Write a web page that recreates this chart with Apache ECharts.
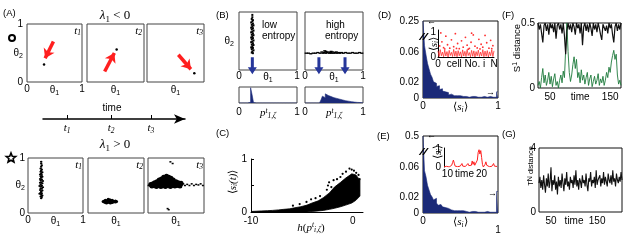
<!DOCTYPE html>
<html><head><meta charset="utf-8">
<script src="https://cdn.jsdelivr.net/npm/echarts@6/dist/echarts.min.js"></script>
<style>html,body{margin:0;padding:0;background:#fff}#c{width:627px;height:241px}</style>
</head><body><div id="c"></div>
<script>
// ---------------- data ----------------
// (A) lambda1<0 : single point and arrow in each snapshot
const aDots = [[0.31,0.30],[0.52,0.56],[0.83,0.15]];
const aArrows = [[[0.48,0.70],[0.33,0.41]],[[0.31,0.18],[0.48,0.50]],[[0.55,0.47],[0.77,0.22]]];
// (A) lambda1>0 : point clouds
const aCloud1 = [[0.24,0.93],[0.24,0.9],[0.25,0.87],[0.24,0.84],[0.23,0.81],[0.25,0.79],[0.24,0.77],[0.23,0.75],[0.26,0.74],[0.24,0.72],[0.22,0.7],[0.25,0.69],[0.23,0.67],[0.26,0.66],[0.24,0.64],[0.22,0.62],[0.25,0.61],[0.23,0.59],[0.27,0.58],[0.24,0.56],[0.22,0.55],[0.26,0.54],[0.23,0.52],[0.25,0.5],[0.21,0.49],[0.24,0.48],[0.27,0.47],[0.23,0.45],[0.25,0.44],[0.22,0.42],[0.26,0.41],[0.24,0.39],[0.23,0.37],[0.25,0.36],[0.21,0.35],[0.24,0.33],[0.26,0.32],[0.23,0.3],[0.25,0.29],[0.24,0.27]];
const aCloud2 = [[0.27,0.21],[0.29,0.2],[0.29,0.22],[0.31,0.19],[0.31,0.21],[0.31,0.23],[0.33,0.2],[0.33,0.22],[0.35,0.19],[0.35,0.21],[0.35,0.23],[0.37,0.2],[0.37,0.22],[0.39,0.19],[0.39,0.21],[0.39,0.24],[0.41,0.2],[0.41,0.22],[0.43,0.19],[0.43,0.21],[0.43,0.23],[0.45,0.2],[0.45,0.22],[0.47,0.21],[0.49,0.2],[0.49,0.22],[0.51,0.21],[0.36,0.25],[0.4,0.18],[0.33,0.18]];
const aCloud3Dense = [[0.05,0.52],[0.07,0.49],[0.09,0.53],[0.1,0.5],[0.12,0.55],[0.13,0.51],[0.15,0.48],[0.16,0.57],[0.17,0.53],[0.19,0.5],[0.2,0.6],[0.21,0.56],[0.22,0.52],[0.23,0.48],[0.24,0.62],[0.25,0.58],[0.26,0.54],[0.27,0.5],[0.28,0.65],[0.29,0.6],[0.3,0.56],[0.31,0.52],[0.31,0.48],[0.33,0.67],[0.33,0.62],[0.34,0.58],[0.35,0.54],[0.35,0.5],[0.37,0.65],[0.38,0.6],[0.38,0.56],[0.39,0.52],[0.4,0.48],[0.41,0.63],[0.42,0.58],[0.43,0.54],[0.44,0.5],[0.45,0.6],[0.46,0.56],[0.47,0.52],[0.48,0.49],[0.5,0.57],[0.51,0.53],[0.52,0.5],[0.54,0.55],[0.56,0.52],[0.57,0.49],[0.59,0.54]];
const aCloud3Sparse = [[0.01,0.5],[0.03,0.51],[0.61,0.51],[0.63,0.53],[0.66,0.5],[0.7,0.52],[0.74,0.5],[0.78,0.53],[0.82,0.5],[0.86,0.52],[0.9,0.51],[0.94,0.53],[0.98,0.5],[0.4,0.93],[0.44,0.9],[0.35,0.08],[0.37,0.06]];
const timeTicks = [17,48,76];
const timeNames = ['1','2','3'];
// (B)
const bCloudLow = [[0.23,0.95],[0.23,0.91],[0.22,0.88],[0.24,0.86],[0.23,0.84],[0.21,0.82],[0.24,0.8],[0.22,0.78],[0.25,0.77],[0.23,0.75],[0.21,0.73],[0.24,0.72],[0.22,0.7],[0.25,0.68],[0.23,0.66],[0.21,0.65],[0.24,0.63],[0.22,0.61],[0.25,0.6],[0.23,0.58],[0.21,0.56],[0.24,0.55],[0.22,0.53],[0.25,0.51],[0.23,0.49],[0.21,0.48],[0.24,0.46],[0.22,0.44],[0.25,0.43],[0.23,0.41],[0.21,0.39],[0.24,0.38],[0.22,0.36],[0.25,0.34],[0.23,0.32],[0.22,0.3],[0.24,0.29]];
const bCloudHigh = [[0.02,0.29],[0.06,0.29],[0.1,0.28],[0.14,0.29],[0.18,0.29],[0.22,0.3],[0.26,0.29],[0.29,0.31],[0.31,0.29],[0.33,0.3],[0.34,0.33],[0.36,0.29],[0.38,0.3],[0.4,0.31],[0.42,0.29],[0.44,0.3],[0.46,0.29],[0.48,0.31],[0.5,0.29],[0.52,0.3],[0.55,0.29],[0.58,0.3],[0.6,0.29],[0.63,0.3],[0.66,0.29],[0.7,0.3],[0.74,0.29],[0.78,0.29],[0.82,0.3],[0.86,0.29],[0.9,0.29],[0.94,0.3],[0.98,0.29],[0.36,0.32],[0.45,0.32],[0.54,0.31]];
const bArrowsLow = [[0.23,0.075]];
const bArrowsHigh = [[0.24,0.075],[0.69,0.075]];
const bHistLow = [0,0,0,0,0,0,0,0.05,1.0,0.55,0.03,0,0,0,0,0,0,0,0,0,0,0,0,0,0,0,0,0,0,0,0,0,0,0,0,0,0,0,0,0];
const bHistHigh = [0,0,0,0,0,0,0,0,0,0,0.05,0.2,0.45,0.35,0.6,0.5,0.55,0.42,0.45,0.35,0.33,0.3,0.27,0.25,0.22,0.2,0.18,0.15,0.14,0.12,0.1,0.09,0.07,0.06,0.05,0.04,0.03,0.03,0.02,0.01];
// (C) envelope of the dense cloud plus loose points
const cX  = [-10,-9.5,-9,-8.4,-7.9,-7.3,-6.8,-6.2,-5.7,-5.1,-4.5,-4,-3.4,-2.9,-2.3,-1.8,-1.2,-0.7,-0.1,0.3,0.7];
const cLo = [0,0,0,0,0,0,0,0,0,0,0,0.01,0.02,0.03,0.05,0.07,0.1,0.13,0.17,0.22,0.3];
const cHi = [0.01,0.015,0.02,0.025,0.03,0.04,0.05,0.06,0.08,0.1,0.13,0.17,0.21,0.27,0.36,0.47,0.56,0.64,0.72,0.7,0.6];
const cDots = [[-3.66,0.26],[-3.22,0.3],[-2.55,0.42],[-2.44,0.5],[-2.33,0.56],[-2.11,0.47],[-1.89,0.6],[-1.55,0.62],[-1.22,0.66],[-1.0,0.72],[-0.67,0.76],[-0.33,0.82],[-0.11,0.8],[0.11,0.78],[0.33,0.74],[0.56,0.7],[0.67,0.62],[-0.78,0.3],[-0.33,0.34],[0.0,0.36],[-4.55,0.19],[-5.22,0.15],[-5.88,0.12],[-4.1,0.24],[-1.44,0.18],[0.45,0.5],[0.56,0.4]];
// (D),(E) histograms of <s_i>, bins of 0.02
const dHist = [0.25,0.068,0.056,0.045,0.038,0.031,0.027,0.021,0.019,0.015,0.016,0.011,0.012,0.009,0.008,0.006,0.007,0.004,0.005,0.004,0.003,0.004,0.003,0.002,0.003,0.002,0.002,0.003,0.002,0.002,0.001,0.002,0.002,0.001,0.002,0.001,0.001,0.002,0.001,0.001,0.002,0.001,0.001,0.001,0.002,0.001,0.001,0.002,0.001,0.008];
const eHist = [0.5,0.055,0.047,0.036,0.03,0.024,0.021,0.017,0.019,0.013,0.01,0.011,0.009,0.008,0.007,0.008,0.006,0.005,0.004,0.005,0.003,0.004,0.003,0.002,0.003,0.002,0.003,0.002,0.002,0.002,0.001,0.002,0.002,0.001,0.002,0.001,0.001,0.002,0.001,0.001,0.001,0.001,0.002,0.001,0.001,0.001,0.001,0.002,0.001,0.028];
const dCellBand = [0.25,0.02,0.3,0.05,0.2,0.01,0.28,0.04,0.22,0.0,0.27,0.06,0.19,0.02,0.31,0.03,0.24,0.01,0.26,0.05,0.21,0.0,0.29,0.04,0.23,0.02,0.3,0.06,0.18,0.01,0.27,0.03,0.25,0.0,0.22,0.05,0.28,0.02,0.2,0.04,0.3,0.01,0.24,0.03,0.26,0.0,0.21,0.05,0.29,0.02,0.25];
const dCellDots = [[3,0.45],[7,0.62],[10,0.38],[14,0.85],[17,0.5],[21,0.36],[24,0.7],[28,0.42],[31,0.95],[35,0.55],[38,0.34],[42,0.66],[45,0.4],[49,0.8],[52,0.48],[56,0.35],[59,0.6],[63,0.9],[66,0.44],[70,0.37],[73,0.72],[77,0.52],[80,0.4],[84,0.88],[87,0.58],[91,0.36],[94,0.68],[98,0.46],[12,0.33],[33,0.35],[54,0.32],[75,0.33],[96,0.34],[5,0.98],[60,0.97]];
const eInset = [0,0,0,0.04,0,0,0,0.02, 0,0.1,0.25,0.4,0.22,0.05,0,0.15, 0.02,0,0,0.05,0.1,0.2,0.05,0, 0,0.03,0,0.1,0.2,0.08,0,0.05, 0.1,0.35,0.15,0.3,0.1,0,0.05,0.4, 0.85,1.0,0.75,0.95,0.55,0.15,0,0.05, 0.15,0.3,0.1,0,0,0.02,0,0, 0.04,0.1,0.2,0.05,0,0,0.03];
// (F) S^1 distance, (G) T^N distance
const fBlack = [0.5,0.45,0.49,0.42,0.35,0.48,0.5,0.44,0.49,0.41,0.5,0.46,0.49,0.43,0.5,0.38,0.48,0.5,0.45,0.49,0.42,0.5,0.4,0.26,0.44,0.5,0.45,0.49,0.43,0.5,0.47,0.41,0.5,0.46,0.49,0.42,0.5,0.33,0.47,0.5,0.44,0.49,0.43,0.5,0.46,0.4,0.5,0.45,0.49,0.43,0.5,0.46,0.41,0.37,0.49,0.5,0.44,0.48,0.42,0.5,0.46,0.49,0.41,0.35,0.47,0.5,0.44,0.49,0.45,0.5];
const fGreen = [0.02,0.05,0.0,0.08,0.15,0.04,0.1,0.02,0.06,0.12,0.03,0.09,0.01,0.07,0.11,0.02,0.05,0.0,0.06,0.1,0.04,0.13,0.08,0.3,0.5,0.28,0.12,0.05,0.1,0.18,0.24,0.15,0.22,0.08,0.12,0.04,0.14,0.06,0.1,0.03,0.08,0.12,0.02,0.07,0.1,0.01,0.05,0.09,0.03,0.06,0.11,0.02,0.07,0.04,0.09,0.02,0.06,0.12,0.08,0.16,0.12,0.2,0.25,0.29,0.22,0.26,0.1,0.03,0.06,0.02];
const gBlack = [1.8,2.2,1.5,2.0,1.4,2.3,1.7,1.2,2.1,1.6,2.4,1.5,1.9,2.8,1.3,2.0,1.7,2.3,1.4,1.9,1.1,2.2,1.6,2.0,1.5,2.4,1.8,1.3,2.1,1.7,2.5,1.6,1.9,1.4,2.2,1.8,2.0,1.5,2.3,1.7,2.6,1.6,2.0,1.4,2.1,1.9,1.5,2.3,1.8,2.0,1.6,2.4,1.7,1.3,2.1,1.9,2.5,1.6,2.0,1.8,2.2,1.5,2.6,1.7,2.0,1.9,2.3,1.6,2.1,1.8,2.5,1.7,2.2,1.9,1.6,2.4,2.0,1.8,2.3,1.7,2.6,1.9,2.1,1.6,2.4,2.0,1.8,2.2,1.9,2.5,2.0];

// ---------------- styling helpers ----------------
const SANS = '"Liberation Sans", Arial, Helvetica, sans-serif';
const SERIF = '"Liberation Serif", "Times New Roman", serif';
const RICH = {
  n:   {fontFamily: SANS, fontSize: 10, lineHeight: 13},
  sb:  {fontFamily: SANS, fontSize: 7, lineHeight: 8, verticalAlign: 'bottom'},
  sp:  {fontFamily: SANS, fontSize: 7, lineHeight: 8, verticalAlign: 'top'},
  it:  {fontFamily: SERIF, fontStyle: 'italic', fontSize: 11, lineHeight: 13},
  isb: {fontFamily: SERIF, fontStyle: 'italic', fontSize: 7.5, lineHeight: 8, verticalAlign: 'bottom'},
  isp: {fontFamily: SERIF, fontStyle: 'italic', fontSize: 7.5, lineHeight: 8, verticalAlign: 'top'},
  sr:  {fontFamily: SERIF, fontSize: 11, lineHeight: 13},
  L:   {fontFamily: SERIF, fontStyle: 'italic', fontSize: 13, lineHeight: 16},
  Ls:  {fontFamily: SERIF, fontSize: 9, lineHeight: 9, verticalAlign: 'bottom'},
  Lr:  {fontFamily: SERIF, fontSize: 13, lineHeight: 16},
  low: {fontFamily: SANS, fontSize: 10, padding: [9, 0, 0, 0]}
};
const TH1 = '{n|θ}{sb|1}', TH2 = '{n|θ}{sb|2}';
const SI = '{sr|⟨}{it|s}{isb|i}{sr|⟩}';
const P1Z = '{it|p}{isp|t}{isb|1,ζ}';
const RED = '#ff1f1f', NAVY = '#1b2a78', BLUE = '#26369a', GREEN = '#1e7b3c';

const grids = [], xAxes = [], yAxes = [], series = [], graphics = [];
function hidden(extra) {
  return Object.assign({type: 'value', axisLine: {show: false}, axisTick: {show: false},
    splitLine: {show: false}, axisLabel: {show: false}}, extra || {});
}
function lab(formatter, extra) {
  return Object.assign({show: true, color: '#000', fontFamily: SANS, fontSize: 10, margin: 3,
    rich: RICH, formatter: formatter, showMinLabel: true, showMaxLabel: true}, extra || {});
}
function addGrid(rect, xa, ya, frame) {
  const gi = grids.length;
  grids.push({left: rect[0], top: rect[1], width: rect[2], height: rect[3], show: !!frame,
    borderColor: frame || 'transparent', borderWidth: 1, backgroundColor: 'transparent',
    containLabel: false, outerBoundsMode: 'none'});
  xa.gridIndex = gi; ya.gridIndex = gi;
  xAxes.push(xa); yAxes.push(ya);
  return gi;
}
function dots(gi, data, size, color, extra) {
  series.push(Object.assign({type: 'scatter', xAxisIndex: gi, yAxisIndex: gi, data: data, symbolSize: size,
    itemStyle: {color: color || '#000', opacity: 1}, silent: true}, extra || {}));
}
function txt(x, y, text, o) {
  o = o || {};
  graphics.push({type: 'text', x: x, y: y, rotation: o.rot || 0, silent: true, z: 10,
    style: {text: text, fill: o.color || '#000', fontFamily: o.ff || SANS, fontSize: o.fs || 10,
      fontStyle: o.fst || 'normal', fontWeight: o.fw || 'normal', align: o.al || 'center',
      verticalAlign: 'middle', rich: RICH}});
}
const k2 = v => Math.round(v * 100);

// ---------------- (A) ----------------
const aTop = [[27,24,55,58],[87,24,57,58],[147,24,57,58]];
aTop.forEach((r, k) => {
  const gi = addGrid(r,
    hidden({min: 0, max: 1, interval: 0.5, axisLabel: lab(v => { const q = k2(v); if (q === 50) return TH1; if (k) return ''; return q === 0 ? '0' : q === 100 ? '1' : ''; }, {margin: 2})}),
    hidden({min: 0, max: 1, interval: 0.5, axisLabel: lab(v => { if (k) return ''; const q = k2(v); return q === 50 ? TH2 : q === 0 ? '0' : '1'; }, {margin: 4})}),
    '#444');
  dots(gi, [aDots[k]], 2.5, '#000', {
    markLine: {silent: true, symbol: ['none', 'arrow'], symbolSize: 9, animation: false,
      lineStyle: {color: RED, width: 3.5, type: 'solid', opacity: 1}, label: {show: false},
      emphasis: {disabled: true},
      data: [[{coord: aArrows[k][0]}, {coord: aArrows[k][1]}]]}});
});
const aBot = [[28,158,55,55],[88,158,56,55],[148,158,56,55]];
aBot.forEach((r, k) => {
  const gi = addGrid(r,
    hidden({min: 0, max: 1, interval: 0.5, axisLabel: lab(v => { const q = k2(v); if (q === 50) return TH1; if (k) return ''; return q === 0 ? '0' : q === 100 ? '1' : ''; }, {margin: 2})}),
    hidden({min: 0, max: 1, interval: 0.5, axisLabel: lab(v => { if (k) return ''; const q = k2(v); return q === 50 ? TH2 : q === 0 ? '0' : '1'; }, {margin: 3})}),
    '#444');
  if (k === 0) dots(gi, aCloud1, [2.5, 2]);
  if (k === 1) dots(gi, aCloud2, 3);
  if (k === 2) { dots(gi, aCloud3Dense, 5); dots(gi, aCloud3Sparse, [2, 1.5], '#000', {symbol: 'rect'}); }
});
// time arrow
const timeCats = []; for (let i = 0; i <= 100; i++) timeCats.push(i);
addGrid([43,118,142,1],
  {type: 'category', data: timeCats, boundaryGap: false,
   axisLine: {show: true, symbol: ['none', 'arrow'], symbolSize: [7, 11], lineStyle: {color: '#000', width: 1.5}},
   axisTick: {show: true, inside: true, length: 4, interval: i => timeTicks.includes(i), lineStyle: {color: '#000', width: 1}},
   splitLine: {show: false},
   axisLabel: lab(v => { const j = timeTicks.indexOf(+v); return j < 0 ? '' : '{it|t}{isb|' + timeNames[j] + '}'; },
     {interval: i => timeTicks.includes(i), margin: 3})},
  hidden({min: 0, max: 1}), null);

// ---------------- (B) ----------------
const downArrow = 'path://M3,0 L6,0 L6,10 L9,10 L4.5,17 L0,10 L3,10 Z';
const bTop = [[239,12,58,58],[305,12,58,58]];
const bArrows = [bArrowsLow, bArrowsHigh];
bTop.forEach((r, k) => {
  const gi = addGrid(r,
    hidden({min: 0, max: 1, interval: 0.5, axisLabel: lab(v => { const q = k2(v); return q === 50 ? TH1 : q === 0 ? '0' : '1'; }, {margin: 1})}),
    hidden({min: 0, max: 1, interval: 0.5, axisLabel: lab(v => (!k && k2(v) === 50) ? TH2 : '', {margin: 5})}),
    '#444');
  if (k === 0) dots(gi, bCloudLow, [2, 2], '#000', {symbol: 'rect'});
  else dots(gi, bCloudHigh, [3, 1.4], '#000', {symbol: 'rect'});
  dots(gi, bArrows[k], [9, 17], BLUE, {symbol: downArrow, clip: false, z: 5});
});
const bBot = [[239,87,58,16],[305,87,58,16]];
const bHists = [bHistLow, bHistHigh];
bBot.forEach((r, k) => {
  const gi = addGrid(r,
    hidden({min: 0, max: 1, interval: 0.5, axisLabel: lab(v => { const q = k2(v); return q === 50 ? P1Z : q === 0 ? '0' : '1'; }, {margin: 4})}),
    hidden({min: 0, max: 1.05}), '#444');
  const d = bHists[k].map((v, i) => [i * 0.025, v]);
  d.push([1, bHists[k][bHists[k].length - 1]]);
  series.push({type: 'line', xAxisIndex: gi, yAxisIndex: gi, data: d, step: 'end', symbol: 'none',
    lineStyle: {color: NAVY, width: 0.6}, areaStyle: {color: NAVY, opacity: 1}, silent: true});
});

// ---------------- (C) ----------------
const giC = addGrid([251,159,112,53],
  {type: 'value', min: -10, max: 1, interval: 5, axisLine: {show: true, onZero: false, lineStyle: {color: '#000', width: 1}},
   axisTick: {show: false}, splitLine: {show: false},
   axisLabel: lab(v => v === -10 ? '-10' : v === 0 ? '0' : '', {margin: 4})},
  {type: 'value', min: 0, max: 1, interval: 0.5, axisLine: {show: true, onZero: false, lineStyle: {color: '#000', width: 1}},
   axisTick: {show: true, inside: true, length: 3, lineStyle: {color: '#000'}}, splitLine: {show: false},
   axisLabel: lab(v => k2(v) === 50 ? '' : String(v), {margin: 4})}, null);
series.push({type: 'custom', xAxisIndex: giC, yAxisIndex: giC, silent: true, clip: true,
  data: cX.map((x, i) => [x, cHi[i]]),
  renderItem: (params, api) => {
    if (params.dataIndex !== 0) return null;
    const up = cX.map((x, i) => api.coord([x, cHi[i]]));
    const dn = cX.map((x, i) => api.coord([x, cLo[i]])).reverse();
    return {type: 'polygon', shape: {points: up.concat(dn)}, style: {fill: '#000', stroke: '#000', lineWidth: 0.8}};
  }});
dots(giC, cDots, 2.2);

// ---------------- (D) & (E) ----------------
function brk(v, top) { return v <= 0.08 ? v : 0.08 + (v - 0.08) / (top - 0.08) * 0.02; }
const breakSym = 'path://M0,8 L5,0 L6.5,0 L1.5,8 Z M3.5,8 L8.5,0 L10,0 L5,8 Z';
function histPanel(rect, hist, topLabel, lowOne) {
  const gi = addGrid(rect,
    hidden({min: 0, max: 1, interval: 0.5, axisLabel: lab(v => { const q = k2(v); return q === 50 ? SI : q === 0 ? '0' : (lowOne ? '{low|1}' : '1'); }, {margin: 3})}),
    hidden({min: 0, max: 0.1, interval: 0.02, axisLabel: lab(v => { const q = k2(v); return q === 0 ? '0' : q === 2 ? '0.02' : q === 6 ? '0.06' : q === 10 ? topLabel : ''; }, {margin: 4})}),
    '#111');
  const d = hist.map((v, i) => [i * 0.02, brk(v, +topLabel)]);
  d.push([1, brk(hist[hist.length - 1], +topLabel)]);
  series.push({type: 'line', xAxisIndex: gi, yAxisIndex: gi, data: d, step: 'end', symbol: 'none',
    lineStyle: {color: NAVY, width: 0.6}, areaStyle: {color: NAVY, opacity: 1}, silent: true});
  dots(gi, [[0.01, 0.08]], [10, 7], '#000', {symbol: breakSym, clip: false, z: 6});
  return gi;
}
histPanel([423,21,75,77], dHist, '0.25', false);
histPanel([423,136,75,77], eHist, '0.5', true);
// D inset
const giDI = addGrid([438,30,56,27],
  {type: 'value', min: 0, max: 100, interval: 50, axisLine: {show: true, onZero: false, lineStyle: {color: '#000'}},
   axisTick: {show: false}, splitLine: {show: false},
   axisLabel: lab(v => v === 0 ? '0' : v === 50 ? 'cell No. i' : v === 100 ? 'N' : '', {margin: 2})},
  {type: 'value', min: 0, max: 1.1, interval: 1, axisLine: {show: true, onZero: false, lineStyle: {color: '#000'}},
   axisTick: {show: false}, splitLine: {show: false},
   axisLabel: lab(v => v === 0 ? '0' : v === 1 ? '1' : '', {margin: 2})}, null);
series.push({type: 'line', xAxisIndex: giDI, yAxisIndex: giDI, symbol: 'none', silent: true,
  data: dCellBand.map((v, i) => [i * 2, v]), lineStyle: {color: '#ff3030', width: 0.8}});
dots(giDI, dCellDots, 1.8, '#ff3030');
// E inset
const eT = eInset.map((_, i) => 9 + 0.25 * i);
const eLab = [4, 24, 44];
const giEI = addGrid([444,148,53,19],
  {type: 'category', data: eT, boundaryGap: false, axisLine: {show: false}, axisTick: {show: false},
   splitLine: {show: false},
   axisLabel: lab(v => +v === 15 ? 'time' : String(v), {interval: i => eLab.includes(i), margin: 2})},
  {type: 'value', min: 0, max: 1.1, interval: 1, axisLine: {show: true, onZero: false, lineStyle: {color: '#000'}},
   axisTick: {show: false}, splitLine: {show: false},
   axisLabel: lab(v => v === 0 ? '0' : v === 1 ? '1' : '', {margin: 3})}, null);
series.push({type: 'line', xAxisIndex: giEI, yAxisIndex: giEI, symbol: 'none', silent: true,
  data: eInset, lineStyle: {color: '#ff2020', width: 1}});

// ---------------- (F) ----------------
const fT = fBlack.map((_, i) => 30 + 2 * i);
const fLab = [10, 35, 60];
const giF = addGrid([538,23,83,65],
  {type: 'category', data: fT, boundaryGap: false, axisLine: {show: false}, axisTick: {show: false},
   splitLine: {show: false},
   axisLabel: lab(v => +v === 100 ? 'time' : String(v), {interval: i => fLab.includes(i), margin: 4})},
  hidden({min: 0, max: 0.5, interval: 0.5, axisLabel: lab(v => v === 0 ? '0' : '0.5', {margin: 3})}), '#111');
series.push({type: 'line', xAxisIndex: giF, yAxisIndex: giF, data: fGreen, symbol: 'none', silent: true,
  lineStyle: {color: GREEN, width: 0.9}});
series.push({type: 'line', xAxisIndex: giF, yAxisIndex: giF, data: fBlack, symbol: 'none', silent: true,
  lineStyle: {color: '#111', width: 1.2}});

// ---------------- (G) ----------------
const gT = gBlack.map((_, i) => 24 + 2 * i);
const gLab = [13, 38, 63];
const giG = addGrid([539,148,83,64],
  {type: 'category', data: gT, boundaryGap: false, axisLine: {show: false}, axisTick: {show: false},
   splitLine: {show: false},
   axisLabel: lab(v => +v === 100 ? 'time' : String(v), {interval: i => gLab.includes(i), margin: 4})},
  hidden({min: 0, max: 4, interval: 4, axisLabel: lab(v => String(v), {margin: 3})}), '#111');
series.push({type: 'line', xAxisIndex: giG, yAxisIndex: giG, data: gBlack, symbol: 'none', silent: true,
  lineStyle: {color: '#111', width: 1.1}});

// ---------------- free text ----------------
txt(3, 13, '(A)', {al: 'left', fs: 9.5});
txt(115, 16, '{L|λ}{Ls|1}{Lr| < 0}');
txt(115, 145, '{L|λ}{Ls|1}{Lr| > 0}');
txt(112, 108, 'time', {fs: 10});
[[81,31,'1'],[142,31,'2'],[203,31,'3'],[82,165,'1'],[143,165,'2'],[203,165,'3']].forEach(t =>
  txt(t[0], t[1], '{it|t}{isb|' + t[2] + '}', {al: 'right'}));
txt(216, 15, '(B)', {al: 'left', fs: 9.5});
txt(262, 25, 'low', {al: 'left'});
txt(262, 36, 'entropy', {al: 'left'});
txt(326, 25, 'high', {al: 'left'});
txt(325, 36, 'entropy', {al: 'left'});
txt(216, 133, '(C)', {al: 'left', fs: 9.5});
txt(233, 182, '{sr|⟨}{it|s}{isb|i}{it|(t)}{sr|⟩}', {rot: Math.PI / 2});
txt(311, 228, '{it|h}{sr|(}{it|p}{isp|t}{isb|i,ζ}{sr|)}');
txt(378, 15, '(D)', {al: 'left', fs: 9.5});
txt(427, 22, '←', {al: 'left', fs: 9});
txt(486, 93, '→', {al: 'left', fs: 9});
txt(434, 44, '{sr|⟨}{it|s}{isb|i}{sr|⟩}', {rot: Math.PI / 2, fs: 7});
txt(377, 136, '(E)', {al: 'left', fs: 9.5});
txt(427, 136, '←', {al: 'left', fs: 9});
txt(488, 194, '→', {al: 'left', fs: 9});
txt(438, 152, '{sr|⟨}{it|s}{isb|i}{sr|⟩}', {rot: Math.PI / 2, fs: 7});
txt(502, 15, '(F)', {al: 'left', fs: 9.5});
txt(517, 48, 'S{sp|1} distance', {rot: Math.PI / 2, fs: 9.5});
txt(502, 134, '(G)', {al: 'left', fs: 9.5});
txt(531, 166, 'T{sp|N} distance', {rot: Math.PI / 2, fs: 7.5});
// condition markers (circle / star)
graphics.push({type: 'circle', shape: {cx: 12, cy: 38, r: 3}, silent: true,
  style: {fill: 'none', stroke: '#000', lineWidth: 2}});
const star = [];
for (let i = 0; i < 10; i++) {
  const r = i % 2 ? 2.2 : 5, a = -Math.PI / 2 + i * Math.PI / 5;
  star.push([11 + r * Math.cos(a), 158 + r * Math.sin(a)]);
}
graphics.push({type: 'polygon', shape: {points: star}, silent: true,
  style: {fill: 'none', stroke: '#000', lineWidth: 1.6}});

const chart = echarts.init(document.getElementById('c'), null, {renderer: 'canvas'});
chart.setOption({
  animation: false,
  backgroundColor: '#fff',
  textStyle: {fontFamily: SANS},
  grid: grids, xAxis: xAxes, yAxis: yAxes, series: series, graphic: graphics
});
</script></body></html>
